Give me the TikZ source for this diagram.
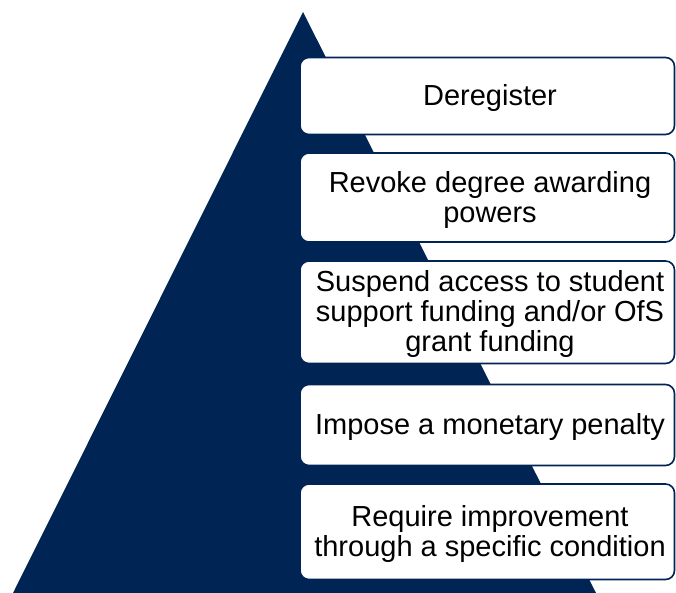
\documentclass[tikz,border=0pt]{standalone}
\usepackage{fontspec}
\setmainfont{Liberation Sans}
\definecolor{ofsnavy}{HTML}{002454}
\begin{document}
\begin{tikzpicture}[x=1pt,y=-1pt,
  levelbox/.style={draw=ofsnavy, line width=1.6pt, fill=white, rounded corners=9pt},
  leveltext/.style={align=center, font=\fontsize{29}{30}\selectfont, text=black, inner sep=0pt}]
\useasboundingbox (0,0) rectangle (676,593);
\fill[ofsnavy] (303,12) -- (596,593) -- (13,593) -- cycle;
\draw[levelbox] (300,57.5) rectangle (674.5,134.5);
\draw[levelbox] (300,153) rectangle (674.5,242);
\draw[levelbox] (300,261) rectangle (674.5,363.5);
\draw[levelbox] (300,384.5) rectangle (674.5,465.5);
\draw[levelbox] (300,484) rectangle (674.5,579.5);
\node[leveltext] (l1) at (490,98.5) {Deregister};
\node[leveltext] (l2) at (490,200) {Revoke degree awarding\\powers};
\node[leveltext] (l3) at (490,314) {Suspend access to student\\support funding and/or OfS\\grant funding};
\node[leveltext] (l4) at (490,427) {Impose a monetary penalty};
\node[leveltext] (l5) at (490,534) {Require improvement\\through a specific condition};
\end{tikzpicture}
\end{document}
